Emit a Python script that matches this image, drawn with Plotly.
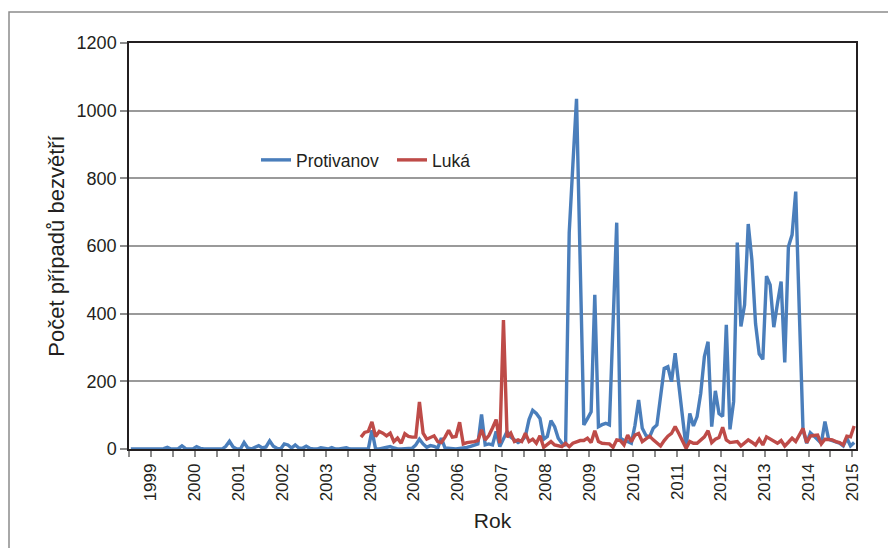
import plotly.graph_objects as go

# Monthly counts, July 1998 - January 2015 (index 0 = 1998-07)
protivanov = [
    0, 0, 1, 0, 0, 1, 0, 0, 2, 1, 5, 0, 0, 1, 9, 1, 0, 0, 7, 2,
    0, 0, 0, 0, 0, 0, 8, 23, 6, 0, 0, 19, 3, 0, 5, 10, 3, 6, 24, 8,
    2, 0, 15, 12, 3, 12, 3, 2, 8, 2, 0, 0, 4, 1, 0, 4, 0, 0, 1, 4,
    0, 0, 0,
    0, 0, 0, 55, 0, 0, 2, 3, 7, 3, 0, 0, 0, 0, 2, 12, 29, 15, 5, 10,
    8, 3, 32, 3, 2, 0, 0, 2, 3, 5, 8, 12, 15, 102, 12, 15, 12, 52, 7, 30,
    52, 35, 27, 19, 25, 37, 87, 114,
    105, 90, 29, 37, 84, 66, 32, 17, 10, 640, 840, 1035, 550, 71, 90, 110, 456, 66, 72, 76,
    71, 370, 669, 32, 25, 22, 17, 70, 145, 61, 40, 36, 61, 71, 155, 238, 243, 199, 283, 190,
    95, 3, 105, 68, 96, 165, 273, 317, 66, 172, 105, 96, 367, 58, 140, 610, 362, 426, 665, 559,
    371, 281, 265, 511, 485, 360, 430, 495, 256, 598, 633, 761, 400, 56, 17, 48, 38, 29, 17, 81,
    29, 25, 22, 17, 9, 32, 9, 19,
]

# Luká starts in October 2003 (index 63)
luka_start = 63
luka = [
    35, 49, 52, 80, 37, 52, 47, 39, 47, 22, 32, 17, 45, 37, 35, 35, 139,
    47, 29, 35, 39, 22, 19, 35, 55, 35, 37, 79, 15, 19, 20, 22, 25, 57, 27, 40,
    62, 87, 17, 381, 35, 47, 22, 27, 22, 47, 22, 29,
    17, 39, 5, 12, 22, 12, 10, 7, 17, 7, 17, 20, 25, 25, 32, 19, 54, 22, 17, 16,
    15, 5, 27, 25, 12, 41, 22, 41, 46, 22, 30, 38, 27, 19, 9, 25, 38, 46, 66, 46,
    25, 2, 22, 17,
    17, 25, 36, 54, 19, 29, 34, 64, 27, 19, 20, 22, 9, 17, 27, 20, 12, 29, 12, 36,
    29, 22, 17, 25, 9, 20, 32, 22, 40, 61, 19, 38, 40, 41, 15, 29, 28, 27, 22, 19,
    12, 38, 36, 68,
]

years = list(range(1999, 2016))

n = len(protivanov)
months = list(range(n))
luka_x = list(range(luka_start, luka_start + len(luka)))

# Category axis: tick marks on month boundaries every six months,
# year labels on the boundary that opens each January
tick_vals = [-0.5 + 6 * j for j in range(n // 6 + 1)]
jan_bounds = {5.5 + 12 * k: str(y) for k, y in enumerate(years)}
tick_text = [jan_bounds.get(v, "") for v in tick_vals]

BLUE = "#4a7ebb"
RED = "#be4b48"
FONT = "Liberation Sans, Arial, sans-serif"
INK = "#231f20"

fig = go.Figure()
fig.add_trace(go.Scatter(x=months, y=protivanov, mode="lines", name="Protivanov",
                         line=dict(color=BLUE, width=3.4)))
fig.add_trace(go.Scatter(x=luka_x, y=luka, mode="lines", name="Luká",
                         line=dict(color=RED, width=3.4)))

L, R, T, B = 129, 856, 43, 449
W, H = 888, 548
pw, ph = R - L, B - T


def px(x):
    return (x - L) / pw


def py(y):
    return (B - y) / ph


fig.update_layout(
    width=W, height=H,
    margin=dict(l=L, r=W - R, t=T, b=H - B, pad=0),
    paper_bgcolor="white", plot_bgcolor="white",
    font=dict(family=FONT, color=INK),
    showlegend=True,
    legend=dict(orientation="h", x=px(256), y=py(160), xanchor="left", yanchor="middle",
                font=dict(size=17.5, color=INK), bgcolor="rgba(0,0,0,0)",
                itemwidth=30, tracegroupgap=0,
                entrywidth=91, entrywidthmode="pixels"),
    xaxis=dict(
        range=[-0.5, n - 0.5], tickmode="array", tickvals=tick_vals, ticktext=tick_text,
        tickangle=-90, tickfont=dict(size=17, color=INK),
        ticks="outside", ticklen=6, tickcolor="#8c8c8c", tickwidth=1.5,
        showgrid=False, zeroline=False,
        showline=True, linecolor=INK, linewidth=1.5, mirror=True,
        title=dict(text="Rok", font=dict(size=21, color=INK), standoff=13),
    ),
    yaxis=dict(
        range=[0, 1200], tickvals=[0, 200, 400, 600, 800, 1000, 1200],
        tickfont=dict(size=18, color=INK),
        ticks="outside", ticklen=7, tickcolor="#8c8c8c", tickwidth=1.5,
        showgrid=True, gridcolor="#9a9a9a", gridwidth=1.5,
        zeroline=False,
        showline=True, linecolor=INK, linewidth=1.5, mirror=True,
        title=dict(text="Počet případů bezvětří", font=dict(size=22, color=INK), standoff=6),
    ),
    # outer chart frame (runs past the right and bottom edges of the page)
    shapes=[dict(type="rect", xref="paper", yref="paper",
                 x0=px(9), x1=px(W + 20), y0=py(H + 20), y1=py(12),
                 line=dict(color="#8c8c8c", width=1.5), layer="below")],
)

fig.write_html("out.html")
